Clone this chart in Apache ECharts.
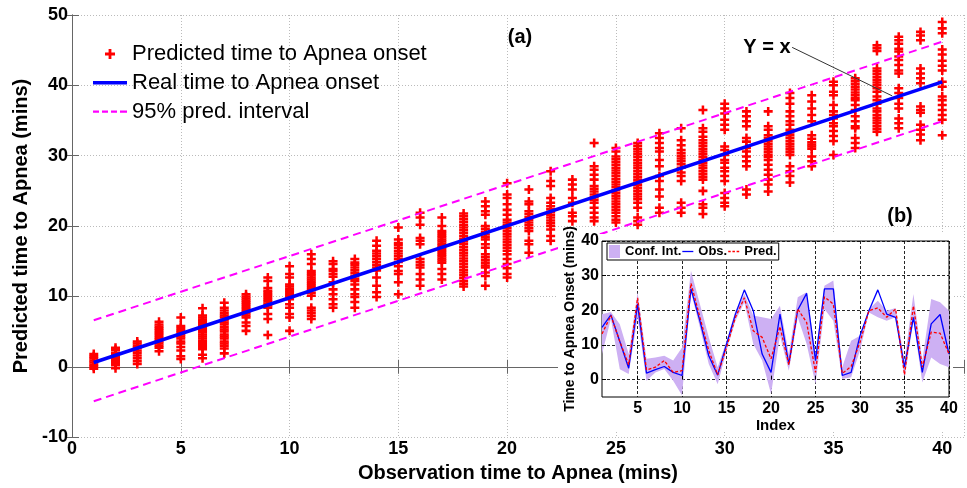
<!DOCTYPE html>
<html><head><meta charset="utf-8">
<script src="https://cdn.jsdelivr.net/npm/echarts@6/dist/echarts.min.js"></script>
<style>html,body{margin:0;padding:0;background:#fff}#c{width:967px;height:488px}</style>
</head><body><div id="c"></div>
<script>
const FONT = "'Liberation Sans', Arial, sans-serif";

// ---- Panel (a): observation times (x) and predicted times (y) per observation time
const obsTimes = [1,2,3,4,5,6,7,8,9,10,11,12,13,14,15,16,17,18,19,20,21,22,23,24,25,26,27,28,29,30,31,32,33,34,35,36,37,38,39,40];
const predicted = [
  [-0.3,0,0.3,0.6,0.9,1.2,1.5,1.8],
  [-0.2,0.2,0.5,0.8,1.1,1.4,1.7,2.0,2.4,2.7],
  [0.4,0.8,1.2,1.6,2.0,2.3,2.7,3.0,3.3,3.6],
  [2.2,2.7,3.0,3.3,3.6,3.9,4.2,4.5,4.8,5.1,5.4,5.7,6.0,6.4],
  [1.1,1.5,2.3,2.8,3.3,3.6,4.0,4.3,4.6,4.9,5.2,5.5,5.8,7.0],
  [1.2,1.7,2.5,2.8,3.1,3.4,3.7,4.0,4.3,4.6,4.9,5.2,5.5,5.8,6.1,6.4,6.7,7.0,7.3,8.3],
  [1.9,2.6,3.0,3.3,3.6,4.0,4.3,4.6,5.0,5.3,5.6,6.0,6.3,6.6,7.0,7.3,7.6,8.0,8.4,9.1],
  [5.1,5.8,6.3,7.0,7.3,7.6,7.9,8.2,8.5,8.8,9.1,9.4,9.7,10.0,10.3],
  [4.5,6.8,7.5,8.4,8.7,9.0,9.3,9.6,9.9,10.2,10.5,10.8,11.2,12.2,12.7],
  [5.1,7.0,7.5,8.4,8.9,9.6,9.9,10.2,10.5,10.8,11.1,11.4,11.7,12.7,13.2,14.3],
  [6.8,7.2,7.6,8.0,8.4,10.1,10.5,10.9,11.2,11.5,11.8,12.1,12.4,12.7,13.0,13.3,13.6,14.6,15.3,16.0],
  [8.4,8.9,9.6,10.3,11.0,12.0,12.8,13.2,13.6,13.9,14.6,15.0],
  [8.4,9.2,9.9,10.3,11.0,11.7,12.2,12.5,12.9,13.3,13.7,14.1,14.5,14.8,15.3],
  [9.9,10.6,11.5,12.7,13.7,14.1,14.5,14.9,15.3,15.7,16.1,16.5,17.2,17.9],
  [10.3,12.0,13.2,13.6,14.3,14.9,15.3,15.7,16.1,16.5,16.9,17.3,17.6,18.1,19.8],
  [11.5,12.4,13.2,14.1,14.5,14.9,15.3,17.4,17.9,18.3,20.2,21.2,21.9],
  [12.4,13.2,13.9,14.8,15.1,15.4,15.7,16.0,16.3,16.6,16.9,17.2,17.5,17.8,18.1,18.4,18.7,19.0,19.3,20.0,21.2],
  [11.4,11.8,12.2,12.6,13.0,13.4,13.8,14.2,14.6,15.0,15.4,15.8,16.2,16.6,17.0,17.4,17.8,18.2,18.6,19.0,19.4,19.8,20.2,20.6,21.0,21.4,21.8],
  [11.5,12.9,13.4,14.1,14.4,14.8,15.2,15.6,16.0,16.9,17.4,18.1,18.4,18.8,19.2,19.6,20.0,21.6,22.1,22.8,23.5],
  [12.7,13.2,14.0,14.6,15.3,16.0,16.5,16.9,17.3,17.7,18.1,18.5,18.9,19.3,19.7,20.1,20.5,20.9,21.6,22.3,23.1,24.0,24.5,26.1],
  [16.2,17.4,17.9,19.3,19.7,20.1,20.5,20.9,21.3,21.7,22.1,23.1,23.5,25.2],
  [17.9,18.6,19.5,20.0,20.4,20.8,21.2,21.6,22.0,22.4,22.8,23.3,24.0,25.7,26.4,27.8],
  [20.7,21.4,21.9,23.3,24.0,25.2,25.9,26.6],
  [20.7,21.2,21.9,22.6,23.3,23.7,24.1,24.5,24.9,25.3,25.7,26.6,27.3,28.0,28.5,31.8],
  [20.5,20.9,21.4,21.9,22.3,22.7,23.1,23.5,23.9,24.3,24.7,25.1,25.5,25.9,26.3,26.7,27.1,27.5,27.9,28.3,28.7,29.1,29.5,29.9,30.6,31.1],
  [20.2,20.7,21.2,22.6,23.3,23.8,24.2,24.6,25.0,25.4,25.8,26.2,26.6,27.0,27.4,27.8,28.2,28.6,29.0,29.4,29.8,30.2,30.6,31.0,31.4,31.8],
  [21.9,22.6,24.2,25.2,26.4,27.1,28.5,29.4,30.6,31.1,31.8,32.5,33.2],
  [21.9,22.6,23.3,26.4,27.1,27.6,28.3,28.8,29.2,29.6,30.0,30.4,30.8,31.5,32.2,33.9],
  [21.7,22.6,23.1,25.0,26.6,27.0,27.4,27.8,28.2,28.6,29.0,29.4,29.8,30.2,30.6,31.0,31.4,31.8,32.2,32.7,33.4,33.9,36.5],
  [22.8,23.3,24.0,24.7,26.4,27.1,27.8,28.3,29.0,29.4,30.1,30.8,31.3,33.7,34.4,35.1,36.0,36.7,37.4],
  [24.5,25.2,28.5,29.2,29.9,30.6,31.1,32.0,32.5,34.2,34.9,35.6,36.3],
  [24.9,25.9,26.6,27.3,28.0,28.7,29.4,29.8,30.1,30.5,30.9,31.3,31.7,32.1,32.5,32.9,33.7,34.2,36.3],
  [26.2,27.1,27.8,28.5,30.1,30.5,30.9,31.3,31.7,32.1,32.5,32.9,33.3,33.7,34.4,34.9,35.6,36.3,37.4,38.2,38.9],
  [28.5,29.2,29.9,31.0,31.3,31.6,31.9,32.4,32.9,34.9,35.8,36.7,37.7,38.6],
  [30.1,32.1,32.8,33.5,34.2,34.6,35.3,35.8,36.3,37.2,38.6,39.1,40.0,40.5],
  [31.1,31.8,32.5,33.9,34.2,34.9,35.6,36.5,37.2,37.9,38.2,38.6,39.0,39.4,39.8,40.2,40.6,41.0],
  [33.4,33.8,34.2,34.6,35.0,35.4,35.8,36.3,36.7,37.4,37.9,38.4,39.1,39.6,40.0,40.4,40.8,41.2,41.6,42.0,42.4,44.9,45.3,45.7],
  [33.9,34.6,35.3,36.7,37.4,38.2,38.9,39.6,41.7,42.1,42.9,43.6,44.1,44.8,45.2,45.9,46.4,46.9],
  [32.2,33.0,33.7,34.4,36.1,36.5,37.0,40.3,41.0,41.7,42.4,46.4,47.1,47.6],
  [32.9,35.1,35.8,36.5,37.2,37.9,38.4,39.8,40.5,42.1,42.8,43.5,44.4,45.1,47.4,48.1,49.0]
];
const realLineX = [1, 40];
const realLineY = [0.6, 40.5];
const piUpperY = [6.6, 46.2];
const piLowerY = [-4.9, 34.9];
const mainXTicks = [0,5,10,15,20,25,30,35,40];

// ---- Panel (b): per-index observed / predicted onset time and confidence band
const insetIndex = [1,2,3,4,5,6,7,8,9,10,11,12,13,14,15,16,17,18,19,20,21,22,23,24,25,26,27,28,29,30,31,32,33,34,35,36,37,38,39,40];
const insetObs  = [15.1,18.7,11.0,3.3,21.8,1.9,2.9,3.8,2.1,1.2,26.2,17.0,6.9,1.3,10.3,18.9,25.9,19.9,7.4,2.1,18.9,4.5,20.1,24.9,5.5,26.2,26.2,1.2,2.1,12.7,19.9,25.9,18.9,18.0,3.6,18.0,2.1,16.1,18.8,7.4];
const insetPred = [13.2,18.5,11.0,4.3,23.6,2.8,3.6,5.5,2.1,2.6,27.8,18.0,8.4,1.4,9.3,18.0,23.6,14.1,12.2,6.0,15.3,4.3,20.4,16.5,2.1,23.9,21.8,1.8,3.8,10.8,19.9,20.7,18.0,20.4,1.4,21.3,3.6,13.7,13.4,7.4];
const insetCiLow  = [7.4,17.5,3.0,1.6,18.0,-0.3,2.1,3.1,-0.3,-4.6,25.2,15.1,4.5,-1.3,8.4,17.0,22.3,10.3,5.5,-4.1,12.7,2.6,18.0,10.3,-1.3,20.4,17.0,0.2,0.7,8.4,19.4,18.0,17.0,18.0,0.2,17.0,-0.8,6.4,4.5,3.6];
const insetCiHigh = [18.9,19.5,16.0,7.4,25.2,6.0,6.4,6.9,5.5,9.3,31.4,21.8,12.2,3.6,11.2,19.9,24.7,18.5,18.0,17.5,21.3,7.4,23.8,25.2,7.4,27.1,28.6,3.6,11.2,12.7,20.4,22.8,19.9,20.7,5.5,24.7,5.5,23.3,22.3,19.9];
const insetXTicks = [5,10,15,20,25,30,35,40];
const insetYTicks = [0,10,20,30,40];

// ---- build
const scatterData = [];
obsTimes.forEach((x, i) => predicted[i].forEach(y => scatterData.push([x, y])));
const realData = realLineX.map((x, i) => [x, realLineY[i]]);
const upperData = realLineX.map((x, i) => [x, piUpperY[i]]);
const lowerData = realLineX.map((x, i) => [x, piLowerY[i]]);
const ciData = insetIndex.map((x, i) => [x, insetCiLow[i], insetCiHigh[i]]);
const obsData = insetIndex.map((x, i) => [x, insetObs[i]]);
const predData = insetIndex.map((x, i) => [x, insetPred[i]]);

const CROSS = 'path://M3.6,0H6.4V3.6H10V6.4H6.4V10H3.6V6.4H0V3.6H3.6Z';
const SOLID_ICON = 'path://M0,0H34V3.4H0Z';
const DASH_ICON = 'path://M0,0H6V2.2H0Z M9,0H15V2.2H9Z M18,0H24V2.2H18Z M27,0H34V2.2H27Z';
const SMALL_SOLID = 'path://M0,0H11V1.3H0Z';
const SMALL_DASH = 'path://M0,0H2.5V1.3H0Z M4.2,0H6.7V1.3H4.2Z M8.4,0H11V1.3H8.4Z';
const PURPLE = '#cdb0f3';
const boxLine = { show: true, lineStyle: { color: '#666', width: 1 } };

const chart = echarts.init(document.getElementById('c'), null, { renderer: 'canvas' });
chart.setOption({
  animation: false,
  backgroundColor: '#fff',
  textStyle: { fontFamily: FONT },
  grid: [
    { left: 72, right: 2, top: 15, bottom: 48, containLabel: false },
    { left: 602, width: 347, top: 241, height: 156, show: true, backgroundColor: '#fff', borderColor: '#000', borderWidth: 1, z: 5 }
  ],
  legend: [
    {
      data: [
        { name: 'Predicted time to Apnea onset' },
        { name: 'Real time to Apnea onset', icon: SOLID_ICON },
        { name: '95% pred. interval', icon: DASH_ICON }
      ],
      orient: 'vertical', left: 93, top: 42, padding: 0, itemWidth: 34, itemHeight: 10, itemGap: 4.8,
      symbolKeepAspect: true,
      textStyle: { fontFamily: FONT, fontSize: 22, color: '#000', lineHeight: 24 },
      selectedMode: false
    },
    {
      data: [{ name: 'Conf. Int.', icon: 'rect' }, { name: 'Obs.', icon: SMALL_SOLID }, { name: 'Pred.', icon: SMALL_DASH }],
      orient: 'horizontal', left: 607, top: 243, itemWidth: 11, itemHeight: 13, itemGap: 1,
      symbolKeepAspect: true,
      padding: [2, 2, 2, 2], borderColor: '#000', borderWidth: 1, backgroundColor: '#fff',
      textStyle: { fontFamily: FONT, fontSize: 13, fontWeight: 'bold', color: '#000' },
      selectedMode: false, z: 9
    }
  ],
  xAxis: [
    {
      gridIndex: 0, type: 'value', min: 0, max: 41, interval: 5, position: 'bottom',
      name: 'Observation time to Apnea (mins)', nameLocation: 'middle', nameGap: 22,
      nameTextStyle: { fontFamily: FONT, fontSize: 20, fontWeight: 'bold', color: '#000' },
      axisLine: boxLine, axisTick: { inside: true, length: 7, lineStyle: { color: '#666' } },
      axisLabel: { fontFamily: FONT, fontSize: 18, fontWeight: 'bold', color: '#000', margin: 3,
        formatter: v => (mainXTicks.indexOf(v) >= 0 ? String(v) : '') },
      splitLine: { show: true, lineStyle: { color: '#bbb', type: [1, 2], width: 1 } }
    },
    {
      gridIndex: 0, type: 'value', min: 0, max: 41, interval: 5, position: 'top',
      axisLine: boxLine, axisTick: { inside: true, length: 7, lineStyle: { color: '#666' } },
      axisLabel: { show: false }, splitLine: { show: false }
    },
    {
      gridIndex: 1, type: 'value', min: 1, max: 40, position: 'bottom', z: 6,
      name: 'Index', nameLocation: 'middle', nameGap: 19,
      nameTextStyle: { fontFamily: FONT, fontSize: 15, fontWeight: 'bold', color: '#000' },
      axisLine: { show: false },
      axisTick: { inside: true, length: 4, customValues: insetXTicks, lineStyle: { color: '#000' } },
      axisLabel: { customValues: insetXTicks, fontFamily: FONT, fontSize: 16, fontWeight: 'bold', color: '#000', margin: 4 },
      splitLine: { show: true, lineStyle: { color: '#000', type: [3, 2], width: 1, opacity: 0.85 } }
    }
  ],
  yAxis: [
    {
      gridIndex: 0, type: 'value', min: -10, max: 50, interval: 10, position: 'left',
      name: 'Predicted time to Apnea (mins)', nameLocation: 'middle', nameGap: 30,
      nameTextStyle: { fontFamily: FONT, fontSize: 20, fontWeight: 'bold', color: '#000' },
      axisLine: boxLine, axisTick: { inside: true, length: 7, lineStyle: { color: '#666' } },
      axisLabel: { fontFamily: FONT, fontSize: 18, fontWeight: 'bold', color: '#000', margin: 4 },
      splitLine: { show: true, lineStyle: { color: '#bbb', type: [1, 2], width: 1 } }
    },
    {
      gridIndex: 0, type: 'value', min: -10, max: 50, interval: 10, position: 'right',
      axisLine: boxLine, axisTick: { inside: true, length: 7, lineStyle: { color: '#666' } },
      axisLabel: { show: false }, splitLine: { show: false }
    },
    {
      gridIndex: 1, type: 'value', min: -5, max: 40, position: 'left', z: 6,
      name: 'Time to Apnea Onset (mins)', nameLocation: 'middle', nameGap: 21,
      nameTextStyle: { fontFamily: FONT, fontSize: 14, fontWeight: 'bold', color: '#000' },
      axisLine: { show: false },
      axisTick: { inside: true, length: 4, customValues: insetYTicks, lineStyle: { color: '#000' } },
      axisLabel: { customValues: insetYTicks, fontFamily: FONT, fontSize: 16, fontWeight: 'bold', color: '#000', margin: 3 },
      splitLine: { show: true, lineStyle: { color: '#000', type: [3, 2], width: 1, opacity: 0.85 } }
    }
  ],
  graphic: [
    { type: 'rect', shape: { x: 558, y: 234, width: 395, height: 197 }, style: { fill: '#fff' }, z: 4, silent: true },
    { type: 'text', x: 520, y: 37, z: 10, style: { text: '(a)', font: 'bold 20px ' + FONT, fill: '#000', textAlign: 'center', textVerticalAlign: 'middle' } },
    { type: 'text', x: 900, y: 216, z: 10, style: { text: '(b)', font: 'bold 20px ' + FONT, fill: '#000', textAlign: 'center', textVerticalAlign: 'middle' } },
    { type: 'text', x: 767, y: 47, z: 10, style: { text: 'Y = x', font: 'bold 20px ' + FONT, fill: '#000', textAlign: 'center', textVerticalAlign: 'middle' } }
  ],
  series: [
    {
      name: 'Predicted time to Apnea onset', type: 'scatter', xAxisIndex: 0, yAxisIndex: 0,
      data: scatterData, symbol: CROSS, symbolSize: 9, symbolKeepAspect: true,
      itemStyle: { color: '#ff0000', opacity: 1 }, z: 2, silent: true
    },
    {
      name: '95% pred. interval', type: 'line', xAxisIndex: 0, yAxisIndex: 0, data: upperData,
      symbol: 'none', lineStyle: { color: '#ff00ff', width: 2, type: [8, 5] }, itemStyle: { color: '#ff00ff' }, z: 3, silent: true
    },
    {
      name: '95% pred. interval', type: 'line', xAxisIndex: 0, yAxisIndex: 0, data: lowerData,
      symbol: 'none', lineStyle: { color: '#ff00ff', width: 2, type: [8, 5] }, itemStyle: { color: '#ff00ff' }, z: 3, silent: true
    },
    {
      name: 'Real time to Apnea onset', type: 'line', xAxisIndex: 0, yAxisIndex: 0, data: realData,
      symbol: 'none', lineStyle: { color: '#0000ff', width: 3.5 }, itemStyle: { color: '#0000ff' }, z: 3, silent: true,
      markLine: {
        silent: true, symbol: ['none', 'arrow'], symbolSize: [0, 9], label: { show: false },
        lineStyle: { color: '#333', width: 1, type: 'solid' },
        data: [[{ coord: [33.1, 45.4] }, { coord: [37.7, 38.5] }]]
      }
    },
    {
      name: 'Conf. Int.', type: 'custom', xAxisIndex: 2, yAxisIndex: 2, data: ciData,
      encode: { x: 0, y: [1, 2] }, z: 6, silent: true, itemStyle: { color: PURPLE },
      renderItem: function (params, api) {
        if (params.dataIndex !== 0) return null;
        const top = ciData.map(d => api.coord([d[0], d[2]]));
        const bottom = ciData.map(d => api.coord([d[0], d[1]])).reverse();
        return { type: 'polygon', shape: { points: top.concat(bottom) }, style: { fill: PURPLE } };
      }
    },
    {
      name: 'Obs.', type: 'line', xAxisIndex: 2, yAxisIndex: 2, data: obsData,
      symbol: 'none', lineStyle: { color: '#0000ff', width: 1.3 }, itemStyle: { color: '#0000ff' }, z: 7, silent: true
    },
    {
      name: 'Pred.', type: 'line', xAxisIndex: 2, yAxisIndex: 2, data: predData,
      symbol: 'none', lineStyle: { color: '#ff0000', width: 1.3, type: [3, 2] }, itemStyle: { color: '#ff0000' }, z: 7, silent: true
    }
  ]
});
</script>
</body></html>
